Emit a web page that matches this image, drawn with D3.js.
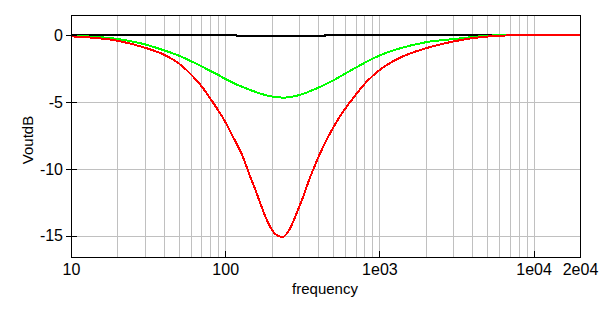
<!DOCTYPE html>
<html><head><meta charset="utf-8">
<script src="https://cdn.jsdelivr.net/npm/d3@7/dist/d3.min.js"></script>
<style>
html,body{margin:0;padding:0;background:#fff;}
svg{display:block;font-family:"Liberation Sans",Arial,sans-serif;}
</style></head>
<body><svg id="chart" width="602" height="328"></svg>
<script>
// ---- data ----
const redFreq = [10,20,30,40,50,60,70,80,90,100,111.7,129.7,143.3,158.4,174.9,193.2,213.4,234.5,260.4,287.7,317.7,351,439,497,550,592,705,819,1000,1346,2000,3000,4000,7000,20000];
const redDb   = [-0.1,-0.43,-0.95,-1.48,-2.15,-2.98,-3.85,-4.8,-5.68,-6.55,-7.62,-9.15,-10.5,-11.8,-13.15,-14.3,-14.95,-15.1,-14.5,-13.35,-12.1,-10.7,-8.1,-6.95,-6.1,-5.55,-4.4,-3.5,-2.6,-1.7,-0.98,-0.48,-0.23,-0.02,0];
const greenFreq = [10,20,30,40,50,60,70,80,90,100,143.3,200,235,302,387,497,640,819,1000,1346,2000,3000,4000,5000,7000,20000];
const greenDb   = [-0.05,-0.3,-0.7,-1.15,-1.55,-1.97,-2.35,-2.7,-3.0,-3.3,-4.1,-4.6,-4.68,-4.48,-4.0,-3.4,-2.68,-2.0,-1.52,-1.0,-0.53,-0.3,-0.15,-0.05,0,0];
const blackFreq = [10,117,118,440,441,20000];
const blackDb   = [0,0,-0.07,-0.07,0,0];
const xTickValues = [10,100,1000,10000,20000];
const xTickLabels = ["10","100","1e03","1e04","2e04"];
const yTickValues = [0,-5,-10,-15];
const xGridValues = [];
[10,100,1000].forEach(d => { for (let k=1;k<=9;k++) xGridValues.push(d*k); });
xGridValues.push(10000);

// ---- layout ----
const L = 71, R = 580, T = 15, B = 257;
const svg = d3.select("#chart");
const x = d3.scaleLog().domain([10,20000]).range([L+0.5, R+0.5]);
const y = d3.scaleLinear().domain([-16.6,1.5]).range([B, T]);
const px = v => Math.round(v) + 0.5;

// grid
const g = svg.append("g").attr("shape-rendering","crispEdges");
g.selectAll(".vg").data(xGridValues).enter().append("line")
  .attr("x1", d=>px(x(d)-0.5)).attr("x2", d=>px(x(d)-0.5))
  .attr("y1", T).attr("y2", B).attr("stroke","#c0c0c0");
g.selectAll(".hg").data(yTickValues).enter().append("line")
  .attr("x1", L).attr("x2", R).attr("y1", d=>px(y(d))).attr("y2", d=>px(y(d)))
  .attr("stroke","#c0c0c0");

// curves
const line = d3.line().x(d=>x(d[0])).y(d=>y(d[1]));
const series = [
  {f:blackFreq, v:blackDb, c:"#000000", curve:d3.curveLinear},
  {f:greenFreq, v:greenDb, c:"#00ff00", curve:d3.curveMonotoneX},
  {f:redFreq, v:redDb, c:"#ff0000", curve:d3.curveMonotoneX}
];
series.forEach(s => {
  svg.append("path")
    .datum(s.f.map((f,i)=>[f, s.v[i]]))
    .attr("d", line.curve(s.curve))
    .attr("fill","none").attr("stroke", s.c).attr("stroke-width",2)
    .attr("shape-rendering","crispEdges");
});

// frame
const fr = svg.append("g").attr("shape-rendering","crispEdges").attr("stroke","#000").attr("fill","none");
fr.append("rect").attr("x", L+0.5).attr("y", T+0.5).attr("width", R-L).attr("height", B-T);

// y ticks
fr.selectAll(".yt").data(yTickValues).enter().append("line")
  .attr("x1", 66).attr("x2", 77).attr("y1", d=>px(y(d))).attr("y2", d=>px(y(d)));
// x ticks
fr.selectAll(".xt").data(xTickValues).enter().append("line")
  .attr("x1", d=>px(x(d)-0.5)).attr("x2", d=>px(x(d)-0.5)).attr("y1", 251).attr("y2", B);

// labels
svg.selectAll(".yl").data(yTickValues).enter().append("text")
  .attr("x", 63).attr("y", d=>y(d)).attr("dy","0.36em")
  .attr("text-anchor","end").attr("font-size",16).text(d=>d);
svg.selectAll(".xl").data(xTickValues).enter().append("text")
  .attr("x", d=>x(d)).attr("y", 275)
  .attr("text-anchor","middle").attr("font-size",16).text((d,i)=>xTickLabels[i]);
svg.append("text").attr("x", 325).attr("y", 294).attr("text-anchor","middle")
  .attr("font-size",15).text("frequency");
svg.append("text").attr("transform","translate(33,140) rotate(-90)").attr("text-anchor","middle")
  .attr("font-size",15).text("VoutdB");
</script></body></html>
